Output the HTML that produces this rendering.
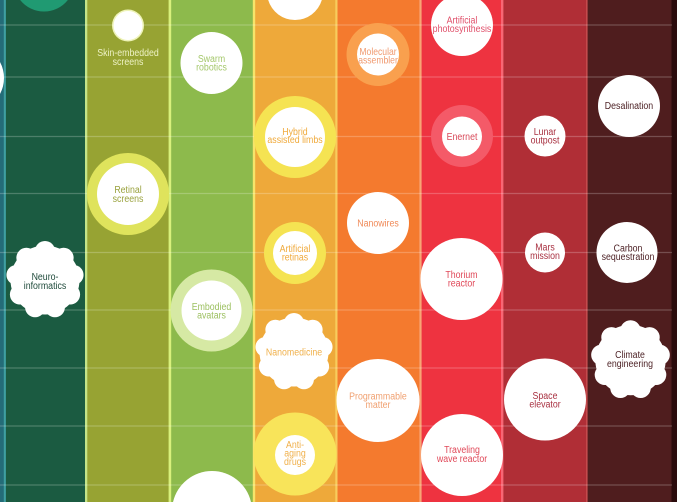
<!DOCTYPE html>
<html><head><meta charset="utf-8">
<style>
html,body{margin:0;padding:0;background:#2b0b0c;width:677px;height:502px;overflow:hidden;}
#wrap{width:677px;height:502px;overflow:hidden;position:relative;}
svg{display:block;overflow:hidden;}
text{font-family:"Liberation Sans",sans-serif;font-size:10px;}
</style></head>
<body>
<div id="wrap">
<svg width="677" height="502" viewBox="0 0 677 502" xmlns="http://www.w3.org/2000/svg">
<defs>
  <g id="cloud">
    <circle cx="0" cy="0" r="34.5" fill="#fff"/>
    <circle cx="0" cy="-29" r="10" fill="#fff"/>
    <circle cx="18.64" cy="-22.22" r="10" fill="#fff"/>
    <circle cx="28.56" cy="-5.04" r="10" fill="#fff"/>
    <circle cx="25.11" cy="14.5" r="10" fill="#fff"/>
    <circle cx="9.92" cy="27.25" r="10" fill="#fff"/>
    <circle cx="-9.92" cy="27.25" r="10" fill="#fff"/>
    <circle cx="-25.11" cy="14.5" r="10" fill="#fff"/>
    <circle cx="-28.56" cy="-5.04" r="10" fill="#fff"/>
    <circle cx="-18.64" cy="-22.22" r="10" fill="#fff"/>
  </g>
</defs>
<!-- columns -->
<rect x="0" y="0" width="6" height="502" fill="#246c78"/>
<rect x="6" y="0" width="80" height="502" fill="#1b5b41"/>
<rect x="86" y="0" width="84" height="502" fill="#97a333"/>
<rect x="170" y="0" width="84" height="502" fill="#8dba4c"/>
<rect x="254" y="0" width="83" height="502" fill="#eea93a"/>
<rect x="337" y="0" width="83" height="502" fill="#f47a2e"/>
<rect x="420" y="0" width="83" height="502" fill="#ee3340"/>
<rect x="503" y="0" width="84" height="502" fill="#b02e36"/>
<rect x="587" y="0" width="84.5" height="502" fill="#4f1d1e"/>
<rect x="671.5" y="0" width="5.5" height="502" fill="#2b0b0c"/>

<!-- separators -->
<rect x="3.8" y="0" width="2" height="502" fill="#3fa0a0"/>
<rect x="85" y="0" width="2.3" height="502" fill="#c4e488"/>
<rect x="168.6" y="0" width="2.6" height="502" fill="#d8f07c"/>
<rect x="252.8" y="0" width="2.4" height="502" fill="#f6e46a"/>
<rect x="335.3" y="0" width="2.2" height="502" fill="#f8cc5c"/>
<rect x="419.4" y="0" width="2.2" height="502" fill="#f8a474"/>
<rect x="501" y="0" width="2.4" height="502" fill="#f86674"/>
<rect x="586" y="0" width="1.6" height="502" fill="#c44a4c"/>

<!-- grid lines -->
<g stroke="#ffffff" stroke-opacity="0.22" stroke-width="1.2">
  <line x1="0" y1="25" x2="672" y2="25"/>
  <line x1="0" y1="77" x2="672" y2="77"/>
  <line x1="0" y1="136.5" x2="672" y2="136.5"/>
  <line x1="0" y1="193.5" x2="672" y2="193.5"/>
  <line x1="0" y1="252.5" x2="672" y2="252.5"/>
  <line x1="0" y1="310" x2="672" y2="310"/>
  <line x1="0" y1="368" x2="672" y2="368"/>
  <line x1="0" y1="426" x2="672" y2="426"/>
  <line x1="0" y1="485" x2="672" y2="485"/>
</g>

<!-- col1 -->
<path d="M 20.14 0 A 30.5 30.5 0 0 0 67.86 0 Z" fill="#209a72"/>
<path d="M 0 62 A 34 34 0 0 1 0 94 Z" fill="#fff"/>
<use href="#cloud" transform="translate(45,280)"/>
<text transform="translate(45,280) scale(0.88,1)" text-anchor="middle" fill="#1e4a3a"><tspan x="0" y="0">Neuro-</tspan><tspan x="0" y="8.8">informatics</tspan></text>

<!-- col2 -->
<circle cx="128" cy="25.5" r="16" fill="#eef3b8"/>
<circle cx="128" cy="25.5" r="14.5" fill="#fff"/>
<text transform="translate(128,56) scale(0.88,1)" text-anchor="middle" fill="#eef2c6"><tspan x="0" y="0">Skin-embedded</tspan><tspan x="0" y="8.8">screens</tspan></text>
<circle cx="128" cy="194" r="41" fill="#dfe35c"/>
<circle cx="128" cy="194" r="31" fill="#fff"/>
<text transform="translate(128,193) scale(0.88,1)" text-anchor="middle" fill="#9aa23e"><tspan x="0" y="0">Retinal</tspan><tspan x="0" y="8.8">screens</tspan></text>

<!-- col3 -->
<circle cx="211.5" cy="63" r="31" fill="#fff"/>
<text transform="translate(211.5,62) scale(0.88,1)" text-anchor="middle" fill="#a5c86c"><tspan x="0" y="0">Swarm</tspan><tspan x="0" y="8.5">robotics</tspan></text>
<circle cx="211.5" cy="310.5" r="41" fill="#d6e9a4"/>
<circle cx="211.5" cy="310.5" r="30" fill="#fff"/>
<text transform="translate(211.5,310) scale(0.88,1)" text-anchor="middle" fill="#9cc060"><tspan x="0" y="0">Embodied</tspan><tspan x="0" y="8.5">avatars</tspan></text>
<path d="M 173.03 502 A 40 40 0 0 1 250.97 502 Z" fill="#fff"/>

<!-- col4 -->
<path d="M 268.17 0 A 28 28 0 0 0 321.83 0 Z" fill="#fff"/>
<circle cx="295" cy="137" r="41" fill="#f5e352"/>
<circle cx="295" cy="137" r="30" fill="#fff"/>
<text transform="translate(295,135) scale(0.88,1)" text-anchor="middle" fill="#f0aa3c"><tspan x="0" y="0">Hybrid</tspan><tspan x="0" y="8">assisted limbs</tspan></text>
<circle cx="295" cy="253" r="31" fill="#f5e352"/>
<circle cx="295" cy="253" r="22" fill="#fff"/>
<text transform="translate(295,252) scale(0.88,1)" text-anchor="middle" fill="#f0aa3c"><tspan x="0" y="0">Artificial</tspan><tspan x="0" y="8.5">retinas</tspan></text>
<use href="#cloud" transform="translate(294,352)"/>
<text transform="translate(294,355.5) scale(0.88,1)" text-anchor="middle" fill="#f0b04a">Nanomedicine</text>
<circle cx="295" cy="454" r="41.5" fill="#f8e45a"/>
<circle cx="295" cy="455" r="20" fill="#fff"/>
<text transform="translate(295,448) scale(0.88,1)" text-anchor="middle" fill="#f0b04a"><tspan x="0" y="0">Anti-</tspan><tspan x="0" y="8.5">aging</tspan><tspan x="0" y="17">drugs</tspan></text>

<!-- col5 -->
<circle cx="378" cy="54.5" r="31.5" fill="#f9a04e"/>
<circle cx="378" cy="54.5" r="21" fill="#fff"/>
<text transform="translate(378,55) scale(0.86,1)" text-anchor="middle" fill="#f09a70"><tspan x="0" y="0">Molecular</tspan><tspan x="0" y="8.3">assembler</tspan></text>
<circle cx="378" cy="223" r="31" fill="#fff"/>
<text transform="translate(378,226.5) scale(0.88,1)" text-anchor="middle" fill="#f08a58">Nanowires</text>
<circle cx="378" cy="400.5" r="41.5" fill="#fff"/>
<text transform="translate(378,399.5) scale(0.88,1)" text-anchor="middle" fill="#f0a070"><tspan x="0" y="0">Programmable</tspan><tspan x="0" y="8.3">matter</tspan></text>

<!-- col6 -->
<path d="M 443.67 0 A 31 31 0 1 0 480.33 0 Z" fill="#fff"/>
<text transform="translate(462,23.5) scale(0.88,1)" text-anchor="middle" fill="#e0506a"><tspan x="0" y="0">Artificial</tspan><tspan x="0" y="8.3">photosynthesis</tspan></text>
<circle cx="462" cy="136" r="31" fill="#f45a68"/>
<circle cx="462" cy="136.5" r="20" fill="#fff"/>
<text transform="translate(462,140) scale(0.88,1)" text-anchor="middle" fill="#d84858">Enernet</text>
<circle cx="461.5" cy="279" r="41" fill="#fff"/>
<text transform="translate(461.5,278) scale(0.88,1)" text-anchor="middle" fill="#e04858"><tspan x="0" y="0">Thorium</tspan><tspan x="0" y="8.4">reactor</tspan></text>
<circle cx="462" cy="455" r="41" fill="#fff"/>
<text transform="translate(462,453) scale(0.88,1)" text-anchor="middle" fill="#e04858"><tspan x="0" y="0">Traveling</tspan><tspan x="0" y="8.8">wave reactor</tspan></text>

<!-- col7 -->
<circle cx="545" cy="136" r="20.5" fill="#fff"/>
<text transform="translate(545,135) scale(0.88,1)" text-anchor="middle" fill="#a83040"><tspan x="0" y="0">Lunar</tspan><tspan x="0" y="8.4">outpost</tspan></text>
<circle cx="545" cy="252.5" r="20" fill="#fff"/>
<text transform="translate(545,250.5) scale(0.88,1)" text-anchor="middle" fill="#a83040"><tspan x="0" y="0">Mars</tspan><tspan x="0" y="8.5">mission</tspan></text>
<circle cx="545" cy="399.5" r="41" fill="#fff"/>
<text transform="translate(545,399) scale(0.88,1)" text-anchor="middle" fill="#a83040"><tspan x="0" y="0">Space</tspan><tspan x="0" y="8.4">elevator</tspan></text>

<!-- col8 -->
<circle cx="629" cy="106" r="31" fill="#fff"/>
<text transform="translate(629,109) scale(0.88,1)" text-anchor="middle" fill="#4a1e22">Desalination</text>
<circle cx="627" cy="252.5" r="30.5" fill="#fff"/>
<text transform="translate(628,251.5) scale(0.88,1)" text-anchor="middle" fill="#4a1e22"><tspan x="0" y="0">Carbon</tspan><tspan x="0" y="8.5">sequestration</tspan></text>
<use href="#cloud" transform="translate(630.5,360) scale(1.02)"/>
<text transform="translate(630,358) scale(0.88,1)" text-anchor="middle" fill="#4a1e22"><tspan x="0" y="0">Climate</tspan><tspan x="0" y="8.8">engineering</tspan></text>
</svg>
</div>
</body></html>
